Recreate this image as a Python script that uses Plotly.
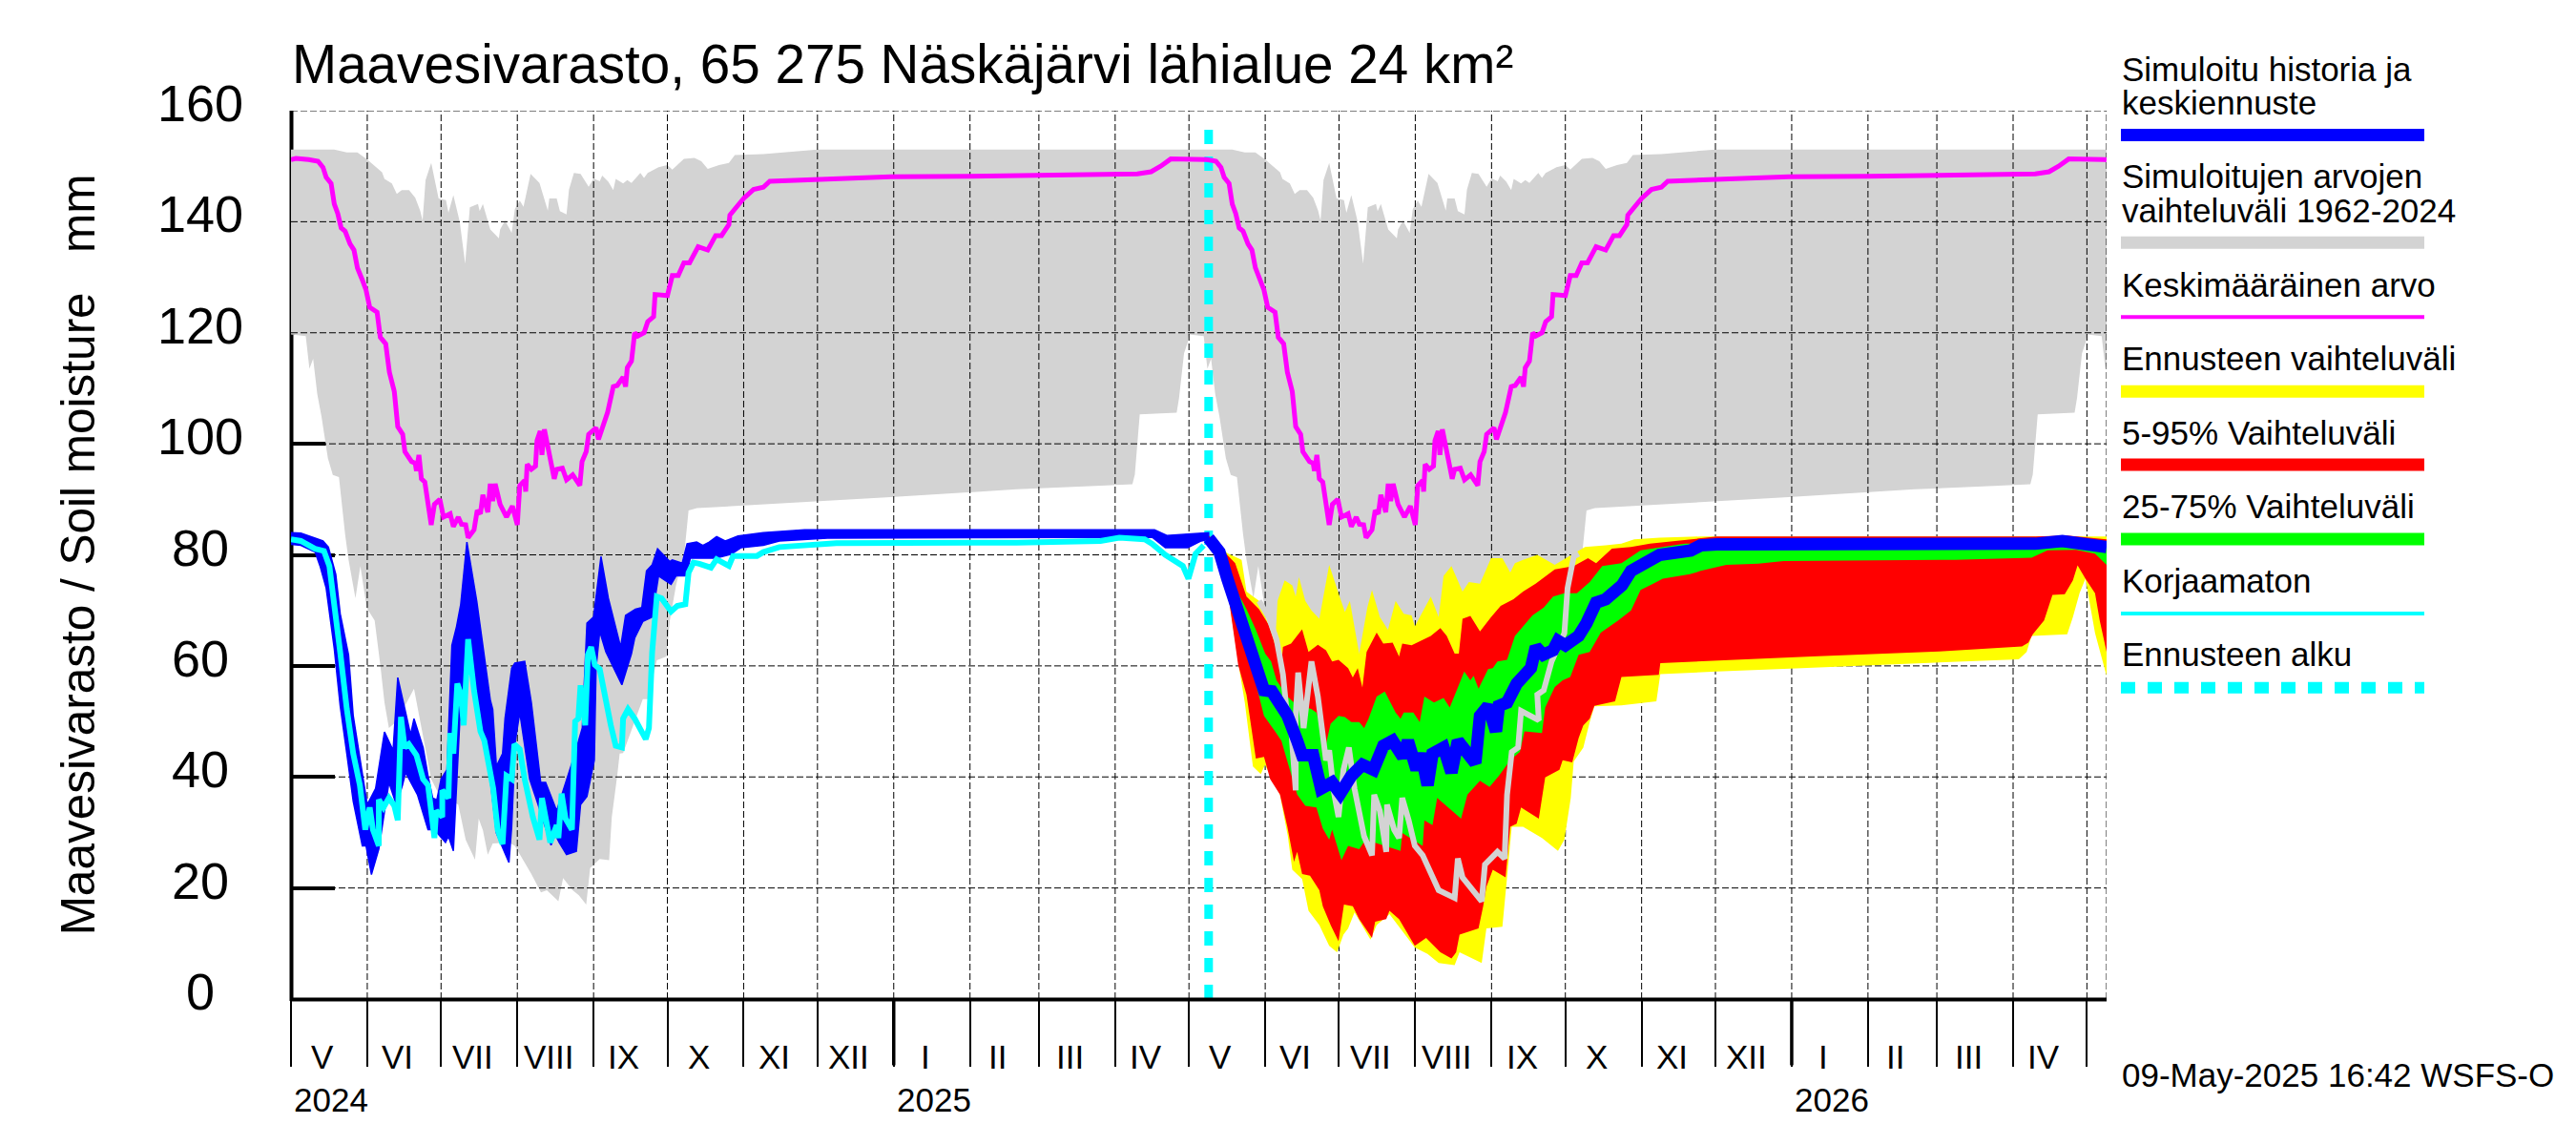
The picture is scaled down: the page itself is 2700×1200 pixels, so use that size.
import numpy as np
import pandas as pd
import plotly.graph_objects as go

# ---------------- data (days since 2024-05-01, values in mm) ----------------
START = "2024-05-01"
END_DAY = 738
FORECAST_DAY = 373

CLIM_UP_D = [0,17.6,22.7,27,31,37,38,41,43,45,48,50.5,52.5,53.5,54.7,57,60,63,64,66,68.6,70.8,72.7,76,76.7,78,81,84.5,85,87,89.7,91,93,94.5,97.4,101,104.4,105,108,109.3,112,113,115,117.7,121,123,125.5,126.5,129,131,132,135,136.7,138.4,142,143.5,145,149.4,153,155,157,159.7,164,166.8,169.4,174,178,180.4,192,214,347,364]
CLIM_UP_V = [153,153,152.5,152.5,151.2,148.9,147.7,146.9,145,145.7,145.7,144.3,142,140.2,147.5,150.6,144.2,143.9,141.6,144.8,140,132.4,142.6,143.2,141.9,143.2,138.6,137,138.6,140.2,138,142.3,143.8,142.7,148.6,147,142,144.2,144.2,141.9,141.3,145.8,148.8,148.6,146.3,147.8,147.3,148.3,147.2,145.7,147.7,146.9,147.5,147,148.8,147.9,148.8,149.8,150.2,149.4,150.2,151.3,151.5,150.9,149.5,150.2,150.6,152,152.2,153,153,153]
CLIM_LO_D = [0,6,7.5,9,10.7,12.4,15,17,19.5,22,23.4,26.2,28.2,30.8,34,36.3,38,39.8,43,50,57,60,68,71,74.8,76.3,78,80,82,88.6,91,93,97.7,101.6,104,108.7,110.6,114.5,117,120,121.6,125.5,129.3,130.4,132.6,133.6,135,143,145,148.7,152.6,154,156.5,160,161,161.6,165,192,243.7,295,342,343,344,345,360,361,363,364.5]
CLIM_LO_V = [119.7,119.4,113.5,115.3,108.9,104.9,97.4,94.4,94,83.7,79.1,72.2,78,70.4,68.2,60.2,53.4,48.8,50,55.9,39.6,37,35,28.7,25.1,32.5,30.4,26,28,28.2,27.6,26.2,22.5,19.2,19.6,17.6,21.8,19.6,18.7,17,23.6,25.2,25,32.8,40.2,44.2,44.3,54,54,61,61.7,68.2,74.5,80.8,85.4,88,88.4,89.1,90.4,91.8,92.7,94.5,100.3,105.3,105.6,108.3,116.3,118.3]
MEAN_D = [0,2,7.2,11,13,14.3,16.3,17.6,19,20.4,22,24,25.6,27,29,30.5,32,35,36.3,38.5,40,42,43.4,45.4,46.3,49,50.5,51,52,53,54.4,57,58.3,60.5,62,64.7,66,68,69.3,71,72,74.4,75.7,77,78,80,81,82,83,85,87.6,90,92,93,95,95.4,96,97.7,99.4,100,101.3,102,103,104.8,107,108,110.3,112,114.5,117.4,118.3,120,121,124,125,128.7,131,132.6,135,136,136.7,138.4,139.7,141,143.5,145,147.4,148,153,155,157.4,159.7,162,165.5,169.4,172.6,175,178,178.4,181,184,188,192,194.6,214,243.7,276,308,344,349.6,353.5,357.6,364]
MEAN_V = [151.2,151.4,151.2,150.9,149.8,148,146.9,143.2,141.5,138.9,138.3,136,134.9,131.7,129.5,127.7,124.6,123.7,119.2,118,112.9,109.4,103.1,101.7,98.6,96.8,96.5,95.1,98,93.7,93.1,85.4,89.1,90,86.8,87.4,85.1,86.8,85.5,85.4,83.1,84.5,88,87.4,90.8,87.7,92.8,89.7,92.8,89.1,86.8,88.8,85.4,92.5,93.4,91.4,96.3,95.4,96,100.6,102.3,98,102.6,98.6,93.7,95.4,95.6,93.5,94.4,92.5,96.8,98.6,101.7,102.9,100.8,105.7,110.3,110.5,112,110.3,113.7,114.9,120,119.4,120,122,122.9,126.9,126.7,130.3,130.3,132.6,132.6,135.5,134.9,137.5,137.5,139.5,141.2,142.6,144.2,145.8,146.2,147.3,147.7,148.1,148.2,148.3,148.6,149,150,151.3,151.3]

HIST_UP_D = [0,4,9.8,13,15.2,18.2,20,23.4,25.3,29.2,31,34.4,38,41.5,43.4,46.6,48.6,50,53.7,55.7,57.6,59.3,61,63.4,65.4,67.3,69,71.5,75.5,81,82,83.5,86,87,89.7,91,95,97.7,101.5,103.5,108,115,118.4,120.3,123,126,129,134,136,140,142.6,144.5,146.8,149,154,155,159,161,164.9,167.4,170,173,176.5,181.7,192,208.8,351,356,373]
HIST_UP_V = [84,83.9,83,82.5,81.4,76.5,69.4,62,51,39.6,35,37.9,48.1,44.8,57.9,51.6,47.6,50.5,45.3,40.2,36.2,35.9,39.6,41.3,63.7,67.1,71.1,82.3,71.7,53.9,52.2,41.9,44.2,50.5,59.6,60.5,60.8,53.4,39,39,33.9,43.6,48.8,67.7,68.8,79.7,72.2,63.4,69.1,70.2,70.5,77.1,78.2,81.1,78.8,79.1,78.5,82,82.3,81.7,82.3,83.3,82.5,83.4,84,84.5,84.5,83.5,84]
HIST_LO_D = [0,4,9.8,11.8,14.3,17.6,20,22.7,25.3,29,30.5,32.7,35.7,38.2,39.8,42.8,45.3,46.6,51.4,55.7,58.3,62.8,64,66,66.7,68.6,72.5,75.7,78.3,81,83.5,88.6,89.7,91.2,93,95,97,100,103,105.7,107.4,109,112,116,117.7,120.3,123.3,124,125.5,128,134.5,138.4,139.7,143,146.8,149.4,154.5,156.5,160.7,162.3,172.6,176.5,179,183,192,198.5,218,282,329,350,355.4,364.5,370,373]
HIST_LO_V = [81.9,81.7,80.5,78,74,63.1,52.8,44.2,35.6,27.6,27.6,22.4,27,34.5,39,35,38.5,40.8,36.8,30.5,30.5,28.2,29.3,26.7,33.9,50,60.8,53.4,47.6,39.6,29.9,24.6,31,46.5,51.6,45.9,39.6,35.6,31.6,27.7,29.6,28.2,26,26.6,35,36.5,43,59.6,66.2,62.5,56.6,62.2,65,68,68.8,76.2,74.7,76.2,76.2,79.4,79.4,79.8,80.1,81.3,81.7,82.5,83,83.1,83.2,83.2,81.3,81.3,82.5,82.8]

RAW_D = [0,4,9.8,13.4,15.6,17.6,20,22.7,25.3,28,30.2,32,33.3,35.7,35.7,37.6,39.8,42,43.4,44.7,46.2,47.9,51,53.7,55.7,58.3,59,61.5,61.5,64,64.7,66,67.6,69,70.2,72,74.4,77,78.6,82.2,84,86,87.6,89.7,90.8,93,95,98.3,101,102,105.4,108,108.7,110,111.6,114.2,115.5,116.8,117.7,119.6,120.7,122,123.5,125.5,127.4,130,132,134.5,135,137,139.7,144.2,145.5,146.8,148.7,150.6,154.5,157,160.3,161.6,163.6,166,170.7,173,178,179.7,189.4,192,198.5,214,221.7,295,329,336.7,347,350,355.4,362.5,364.8,367.7,371]
RAW_V = [82.8,82.5,81.1,80.7,78,71.7,62.5,52.2,44.2,38.5,30.5,34.5,30.5,27.6,35.9,34.5,36.2,34.8,32.2,50.8,45.3,45.9,43.9,39.6,38.5,29,33.9,32.8,37.6,36.2,47.9,44.2,56.8,55,49.3,64.8,55.6,48.2,46.5,37.9,30.5,27.9,40.2,39.6,45.9,45,39.6,32.8,28.7,36.2,28.2,31.3,29,37,32.5,30.5,50,50.5,56.5,49.3,62,63.4,60.2,59.4,54.5,49.3,45.6,45.3,50.5,52.2,50.5,46.8,48.8,62.5,72.5,72.2,69.8,70.8,71.1,76.8,78.6,78.4,77.7,79.2,78,79.8,79.8,80.5,81.4,81.7,82.1,82.2,82.5,83.1,82.8,82,80,78,75.7,80.2,81.7]

MED_D = [373,377.4,380.6,384.5,387.7,391,395.5,398.7,405,409,411,415.5,418.7,423.2,426.5,431,435.5,440,444,447.8,452,454,457.5,459.4,462,464,468.5,471.7,474.3,481.4,483.3,486.6,489.8,491,494.3,498.2,500.8,504,506,509,513,515,518,523.4,526.6,530.5,534.4,541,544.7,548.6,552.4,556.3,569,573,579.6,609,709,720,727,734.6,738]
MED_V = [83,80.5,75.7,70.5,66,61.4,55.6,55.4,51.1,46.5,43.9,43.9,37.9,39,37,40.2,42.2,41.3,45.6,46.5,43.6,46.5,41.3,44.2,38.5,44.2,45.3,40.8,46.5,42.5,51,52.8,48.2,52.8,53.4,56.8,58.5,59.6,63.4,62,62.8,64.5,63.7,65.4,67.7,71.4,72,74.5,77.1,78.2,79.1,80,80.8,81.7,81.9,81.9,82,82.5,82.1,81.7,81.4]

P75_D = [373,380.6,388.4,392.2,396,398.4,400.6,405,407.7,414.8,416.8,420.7,422.6,425.8,428.4,431,434.2,436.2,438,441.3,444.6,449,451,452.3,456.2,458.8,460.7,464.6,468.5,471,476.9,479.4,480.7,482.7,486.6,488.5,490.4,494.3,497.5,500.8,504.6,509.2,513,517.6,522.7,527.9,533,540.8,544.7,548.6,566.6,618,720,738]
P75_V = [83,76.8,70.2,66.5,62.2,60.8,57.4,54.5,53.4,52.2,51.6,45.9,49.6,51,50.8,49.9,49.9,48.8,50.5,54.5,55.4,51.6,50.5,51.6,51.6,49.9,54.5,53.4,54.2,52.5,59,57.4,58.2,55.9,59.4,59.6,60.8,61.1,65.4,67.1,69.1,70.5,72.5,73.1,73.1,75.1,78,78.5,79.7,80.8,82,82.2,83,81.9]
P25_D = [373,380.6,388.4,392.2,395.5,400,402.6,405.2,409,412.3,416.8,419.4,422,423.2,427,429.7,434.2,436.8,451,451.7,460,460.7,464,465.9,475.6,478.2,483.3,487.2,491,495.6,499.5,501.4,508.5,509.8,513.7,516.9,520,523.4,527.9,532.4,539.5,544.7,548.6,553.7,557.6,568.6,573,583.4,596.4,606.7,676.4,707.5,714,725.6,733.3,738]
P25_V = [83,74.5,64.8,56.8,51,48.2,46.5,42.5,36.8,34.8,34.5,30.7,28.7,30.5,25,27.6,27,28.7,26.7,29.9,27.6,32.2,31.3,36.2,32.5,36.8,39.3,38.2,40.2,43,44.5,48.2,47.9,52.5,56.2,57.4,58,62,62.5,66,68.2,70,73.7,74.8,75.7,76.5,77.1,78.2,78.4,78.9,79.1,79.5,80.8,80.9,80.2,78.2]
P95_D = [373,380.6,383.8,388.4,393.5,397.4,402.6,403.2,406.5,411,413.6,417.4,420.7,423.2,425.8,429.7,431.6,433.6,435.5,437.2,441.3,444,447.8,450.4,451.7,455.5,459.4,463.3,467.2,469.8,473,474.7,476.2,479.4,483.3,487.8,491.7,496.9,500.8,505.9,513.7,521.4,527.2,530.5,536.9,544.7,552.4,564,579.6,709,722,738]
P95_V = [83.5,80,78.5,72.5,70.2,67.4,60.2,63.4,64,66.6,62.5,63.8,62.8,60.8,61.1,59.6,57.9,59.6,56.1,62.5,66,64,64.2,61.7,64,63.7,64.5,65.4,66.8,65.4,62.2,62.2,68.5,69,66.2,68.8,70.8,72,73.4,74.8,77.4,78,79.4,78.5,81.1,81.4,82,82.5,83.3,83.3,83.5,82.8]
P05_D = [373,380.6,385,388.4,392.2,395.5,398,402,405,407.7,409,411,414.2,418,419.4,422.6,425.8,428,431.6,434.2,439.4,440.7,445.2,446.5,450.4,456.8,461.4,467.2,471.7,473.6,475,482.7,484.6,485.9,488.5,493.7,495.6,498.2,500,507.2,509.8,515.6,516.9,520.8,523.4,525.3,527.9,529.8,538.2,540.8,556,556.6,579.6,618.3,670,703.6,706.2,708,712.6,716,721,724.3,726.2,729.4,733.3,735.2,738]
P05_V = [83,74,60.2,54.8,43.3,43.6,39.6,36.8,31,24.7,26.5,22.5,22.2,19.6,16.7,13.3,10.4,17,16.7,14.4,11,13.9,14.4,15.9,14.4,9.6,11,8.4,7.3,8.4,11.6,12.7,16.7,20.2,23.3,21.9,31,31.6,34.5,32.5,39.9,41.3,43,42.6,47,49.3,50.5,52.8,53.6,58,58.4,60.5,60.9,61.7,62.6,63.5,64.2,65.7,68.2,72.8,72.9,75.4,78.1,75.7,73.1,68.2,62.5]
MAX_D = [373,380.6,386.4,388.4,393.5,397.4,400.3,401,403.9,407,408.4,409.7,412.3,414.8,418,422,425.8,428.4,430.4,434.2,437.5,439.4,442.6,445.9,449,452.3,455.5,456.8,463.3,466.5,468.5,471.7,476.2,478.8,483.3,487.8,492.4,495.6,497.5,500.8,506.6,513.7,518.2,526,534.4,540.8,546,556.3,573,738]
MAX_V = [83.5,80.3,79.1,73.4,71.7,67.4,65.9,71.7,75.4,74.5,72.5,76,71.7,70,68.5,78.2,73.1,69.7,71.7,62.2,70.5,73.7,68.8,66.5,71.7,69.4,69.1,67.1,72.5,68.8,76.2,78,73.4,75.1,74.8,79.4,79.4,76.8,78.5,79.1,80,78.2,79.4,81.4,81.7,82,82.8,83.1,83.3,83.3]
MIN_D = [373,380.6,385.8,387.7,391,394.2,395.9,402,405.2,407,411,413.6,418,422,425.2,427.8,429.7,432.3,438.8,441.3,446.5,456.8,462,466.5,473,475,484,485.9,492.4,494.3,496.2,500.8,508.5,515,517.6,520.2,521.4,525.3,527.9,529.8,540.8,555,556.6,579.6,609.3,666,702.3,705.5,707.5,722,724.3,727,729.4,733.3,738]
MIN_V = [83,74,58.5,53.4,41.9,40.5,42.2,36.8,29.3,23.3,21.6,15.9,13.3,9.6,8.4,11.6,12.7,15.6,10.7,13.3,15.3,9.3,8.1,6.5,6.1,8.4,6.5,12.7,13,21.9,31,31,29,26.7,28.7,36.2,42.8,45.3,49.9,52.7,52.9,53.6,58.5,59,59.5,60.5,61.2,62.5,65.4,65.7,68.8,73.1,75.7,65.9,58.2]
REF_D = [393.5,397.4,400.6,403.2,404.5,406.5,408.4,408.4,409.4,411.6,414.8,417.4,420.7,422,423.9,425.8,427.8,430,432.3,436.2,439.4,440.3,442.6,445.2,445.5,448.4,450.4,451.7,454.3,456.8,460,466.5,473,474.3,476.2,480.7,484,485.3,490.4,493.3,494.3,496.2,498.8,500,507.2,506.6,509.2,512.4,517.6,518.9,521.4,523.4]
REF_V = [71.7,68.8,64.8,58.5,52.8,48.8,37.6,51,58.8,48.8,60.8,54.5,43,44.8,37.3,32.8,41.3,45.3,37.9,29.3,25.9,36.8,33.9,26.5,35,30.5,29,36.2,32.2,27.6,25.9,19.6,18.2,25.3,21.9,19.3,17.6,24.2,26.5,25.3,36.8,44.5,45.3,51.9,50.2,54.8,55.6,60.8,65.9,74,79.7,80.2]

MONTHS = ["V","VI","VII","VIII","IX","X","XI","XII","I","II","III","IV"]
Y_TICKS = [0,20,40,60,80,100,120,140,160]
YEARS = ["2024","2025","2026"]
LEGEND_ROWS = ["Simuloitu historia ja","keskiennuste","Simuloitujen arvojen","vaihteluväli 1962-2024","Keskimääräinen arvo","Ennusteen vaihteluväli","5-95% Vaihteluväli","25-75% Vaihteluväli","Korjaamaton","Ennusteen alku"]
TITLE = "Maavesivarasto, 65 275 Näskäjärvi lähialue 24 km²"
YTITLE = "Maavesivarasto / Soil moisture\u00a0\u00a0\u00a0mm"
STAMP = "09-May-2025 16:42 WSFS-O"

# ---------------- helpers ----------------
BASE = pd.Timestamp(START)
def dates(days):
    return [(BASE + pd.Timedelta(days=float(d))).strftime("%Y-%m-%d %H:%M") if d is not None else None for d in days]

def yearly(days, vals):
    """The climatology repeats every year of the time axis."""
    xs, ys = [], []
    for k in range(3):
        for d, v in zip(days, vals):
            if d + 365 * k <= END_DAY:
                xs.append(d + 365 * k); ys.append(v)
    xs.append(END_DAY); ys.append(float(np.interp(END_DAY - 730, days, vals)))
    return xs, ys

def band(up_d, up_v, lo_d, lo_v, color, edge=0):
    return go.Scatter(x=dates(list(up_d) + list(lo_d)[::-1]), y=list(up_v) + list(lo_v)[::-1],
                      mode="lines", fill="toself", fillcolor=color, line=dict(width=edge, color=color),
                      hoverinfo="skip", showlegend=False)

def line(d, v, color, width, dash=None):
    return go.Scatter(x=dates(d), y=v, mode="lines", line=dict(color=color, width=width, dash=dash),
                      hoverinfo="skip", showlegend=False)

W, H = 2700, 1200
L, R, T, B = 305.0, 2208.0, 115.5, 1047.5
def px(x): return (x - L) / (R - L)
def py(y): return (B - y) / (B - T)

month_starts = list(pd.date_range(START, periods=25, freq="MS"))
month_days = [(m - BASE).days for m in month_starts]
year_starts = [m for m in month_starts if m.month == 1]

fig = go.Figure()

# climatology band
cu_d, cu_v = yearly(CLIM_UP_D, CLIM_UP_V)
cl_d, cl_v = yearly(CLIM_LO_D, CLIM_LO_V)
fig.add_trace(band(cu_d, cu_v, cl_d, cl_v, "#D3D3D3"))

# grid sits on the grey band but under everything else
gx, gy = [], []
for d in month_days[1:] + [END_DAY]:
    gx += [d, d, None]; gy += [0, 160, None]
for t in Y_TICKS[1:]:
    gx += [0, END_DAY, None]; gy += [t, t, None]
fig.add_trace(go.Scatter(x=dates(gx), y=gy, mode="lines", line=dict(color="#000000", width=1, dash="7px,3px"),
                         hoverinfo="skip", showlegend=False, connectgaps=False))

# forecast start
fig.add_trace(line([FORECAST_DAY, FORECAST_DAY], [0, 158.2], "#00FFFF", 9, "15px,13px"))

# forecast bands
fig.add_trace(band(MAX_D, MAX_V, MIN_D, MIN_V, "#FFFF00"))
fig.add_trace(band(P95_D, P95_V, P05_D, P05_V, "#FF0000"))
fig.add_trace(band(P75_D, P75_V, P25_D, P25_V, "#00FF00"))
fig.add_trace(line(REF_D, REF_V, "#D3D3D3", 6))

# mean
md, mv = yearly(MEAN_D, MEAN_V)
fig.add_trace(line(md, mv, "#FF00FF", 5))

# history
fig.add_trace(band(HIST_UP_D, HIST_UP_V, HIST_LO_D, HIST_LO_V, "#0000FF", edge=1.5))
fig.add_trace(line(RAW_D, RAW_V, "#00FFFF", 6))
fig.add_trace(line(MED_D, MED_V, "#0000FF", 13))

anns = []
# y tick labels (centred on one another, as in the reference)
for t in Y_TICKS:
    anns.append(dict(text=str(t), xref="paper", yref="y", x=px(209.5), y=t, yshift=8, xanchor="center",
                     yanchor="middle", showarrow=False, font=dict(size=54)))
# month labels
for m, d0, d1 in zip(month_starts[:-1], month_days[:-1], month_days[1:] + [month_days[-1]]):
    if d0 >= END_DAY:
        continue
    mid = (d0 + min(d1, END_DAY + 22)) / 2
    anns.append(dict(text=MONTHS[(m.month - 5) % 12], xref="x", yref="paper", x=dates([mid])[0], y=py(1108), xshift=-7,
                     xanchor="center", yanchor="middle", showarrow=False, font=dict(size=35)))
# year labels
for lab, d in zip(YEARS, [0] + [(y - BASE).days for y in year_starts]):
    anns.append(dict(text=lab, xref="x", yref="paper", x=dates([d])[0], y=py(1153), xshift=1, xanchor="left",
                     yanchor="middle", showarrow=False, font=dict(size=35)))
# legend text
for txt, yc in zip(LEGEND_ROWS, [72, 107, 184, 220, 298, 375, 453, 530, 609, 686]):
    anns.append(dict(text=txt, xref="paper", yref="paper", x=px(2222), y=py(yc), xanchor="left", yanchor="middle",
                     showarrow=False, font=dict(size=35)))
anns.append(dict(text=STAMP, xref="paper", yref="paper", x=px(2222), y=py(1127), xanchor="left", yanchor="middle",
                 showarrow=False, font=dict(size=35)))

shapes = [
    dict(type="line", xref="paper", yref="paper", x0=px(305.5), x1=px(305.5), y0=py(B + 2), y1=1, line=dict(color="black", width=4), layer="below"),
    dict(type="line", xref="paper", yref="paper", x0=0, x1=1, y0=py(1048), y1=py(1048), line=dict(color="black", width=4), layer="above"),
]
for y0 in year_starts:
    shapes.append(dict(type="line", xref="x", yref="paper", x0=y0, x1=y0, y0=0, y1=py(1117), line=dict(color="black", width=3.5)))
for yc, color, wd, dash in [(141, "#0000FF", 13, None), (254, "#D3D3D3", 13, None), (332, "#FF00FF", 4, None), (410, "#FFFF00", 13, None),
                            (487, "#FF0000", 13, None), (565, "#00FF00", 13, None), (643, "#00FFFF", 4, None), (721, "#00FFFF", 12, "15px,13px")]:
    shapes.append(dict(type="line", xref="paper", yref="paper", x0=px(2223), x1=px(2541), y0=py(yc), y1=py(yc), line=dict(color=color, width=wd, dash=dash)))

fig.update_layout(
    width=W, height=H, autosize=False,
    margin=dict(l=L, r=W - R, t=T, b=H - B, pad=0),
    paper_bgcolor="white", plot_bgcolor="white", showlegend=False,
    font=dict(family="Liberation Sans, Arial, Helvetica, sans-serif", color="black"),
    title=dict(text=TITLE, x=306 / W, xanchor="left", y=1 - 67 / H, yanchor="middle", font=dict(size=56.6)),
    xaxis=dict(type="date", range=[dates([0])[0], dates([END_DAY])[0]], showgrid=False, zeroline=False, showline=False,
               tickmode="array", tickvals=[dates([d])[0] for d in month_days if d <= END_DAY], ticktext=[""] * 25,
               ticks="outside", ticklen=70, tickwidth=1.5, tickcolor="black", showticklabels=False),
    yaxis=dict(range=[0, 160], showgrid=False, zeroline=False, showline=False, tickmode="array", tickvals=Y_TICKS,
               ticks="inside", ticklen=46, tickwidth=4, tickcolor="black", showticklabels=False, layer="below traces",
               title=dict(text=YTITLE, font=dict(size=49.5), standoff=188)),
    annotations=anns, shapes=shapes,
)

fig.write_html("out.html", config={"displayModeBar": False}, post_script="document.body.style.margin='0';")
